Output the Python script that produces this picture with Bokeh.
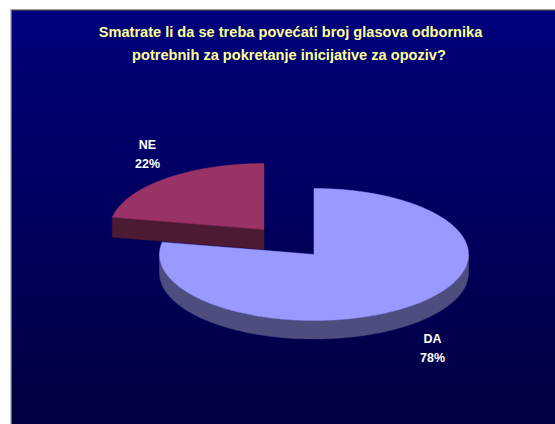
import numpy as np
from bokeh.plotting import figure
from bokeh.embed import file_html
from bokeh.resources import INLINE
from bokeh.core.properties import value

# Data
categories = ["DA", "NE"]
shares = [78, 22]
percent_labels = ["78%", "22%"]
title_lines = ["Smatrate li da se treba povećati broj glasova odbornika",
               "potrebnih za  pokretanje inicijative za opoziv?"]

W, H = 555, 424
p = figure(width=W, height=H, x_range=(0, W), y_range=(H, 0),
           output_backend="svg", toolbar_location=None,
           min_border=0, min_border_left=0, min_border_right=0,
           min_border_top=0, min_border_bottom=0)
p.axis.visible = False
p.grid.visible = False
p.outline_line_color = None
p.background_fill_color = "white"
p.border_fill_color = "white"

# Gradient slide background
LEFT, TOP = 11, 10
rows = np.arange(TOP, H)
t = (rows - TOP) / (H - TOP - 1)
band_colors = ["#%02x%02x%02x" % (0, 0, int(round(128 - 66 * v))) for v in t]
p.quad(left=[LEFT], right=[W], top=[TOP], bottom=[H], fill_color="#000060", fill_alpha=1, line_color=None)
p.quad(left=LEFT, right=W, top=rows, bottom=rows + 1.3, fill_color=band_colors, fill_alpha=1, line_color=None)
# Slide frame
p.segment(x0=[LEFT - 1], y0=[TOP - 0.5], x1=[W], y1=[TOP - 0.5], line_color="#333333", line_width=1)
p.segment(x0=[LEFT - 0.5], y0=[TOP - 1], x1=[LEFT - 0.5], y1=[H], line_color="#888888", line_width=1)

# Pie geometry
RX, RY = 154.5, 66
DEPTH = {"DA": 18.5, "NE": 20}
APEX = {"DA": (313.5, 254), "NE": (263.5, 229)}
TOP_COL = {"DA": "#9999ff", "NE": "#993366"}
SIDE_COL = {"DA": "#4d4d80", "NE": "#4d1a33"}


def arc(apex, a0, a1):
    th = np.radians(np.linspace(a0, a1, max(int(abs(a1 - a0)) * 2, 2)))
    return apex[0] + RX * np.sin(th), apex[1] - RY * np.cos(th)


angle = 0.0
spans = {}
for c, s in zip(categories, shares):
    spans[c] = (angle, angle + 360.0 * s / sum(shares))
    angle = spans[c][1]

# NE: its visible cut face, then the top
c = "NE"
ax, ay = APEX[c]
a0, a1 = spans[c]
ex, ey = arc(APEX[c], a0, a0)
p.patch(x=[ax, ex[0], ex[0], ax], y=[ay, ey[0], ey[0] + DEPTH[c], ay + DEPTH[c]],
        fill_color=SIDE_COL[c], line_color=SIDE_COL[c], line_width=0.5)
xs, ys = arc(APEX[c], a0, a1)
p.patch(x=[ax, *xs], y=[ay, *ys], fill_color=TOP_COL[c], line_color=TOP_COL[c], line_width=0.5)

# DA: the rim along the front of the ellipse, then the top
c = "DA"
ax, ay = APEX[c]
a0, a1 = spans[c]
xs, ys = arc(APEX[c], 90, 270)
p.patch(x=[*xs, *xs[::-1]], y=[*ys, *(ys[::-1] + DEPTH[c])],
        fill_color=SIDE_COL[c], line_color=SIDE_COL[c], line_width=0.5)
xs, ys = arc(APEX[c], a0, a1)
p.patch(x=[ax, *xs], y=[ay, *ys], fill_color=TOP_COL[c], line_color=TOP_COL[c], line_width=0.5)

# Title
p.text(x=[290, 290.5], y=[31.5, 54], text=title_lines, text_color="#ffff99",
       text_font=value("Liberation Sans"), text_font_style="bold", text_font_size="14.6px",
       text_align="center", text_baseline="middle")

# Data labels
p.text(x=[432, 147], y=[338, 144], text=categories, text_color="white",
       text_font=value("Liberation Sans"), text_font_style="bold", text_font_size="12.5px",
       text_align="center", text_baseline="middle")
p.text(x=[432, 147], y=[357, 163], text=percent_labels, text_color="white",
       text_font=value("Liberation Sans"), text_font_style="bold", text_font_size="12.5px",
       text_align="center", text_baseline="middle")

open("out.html", "w").write(file_html(p, INLINE))
